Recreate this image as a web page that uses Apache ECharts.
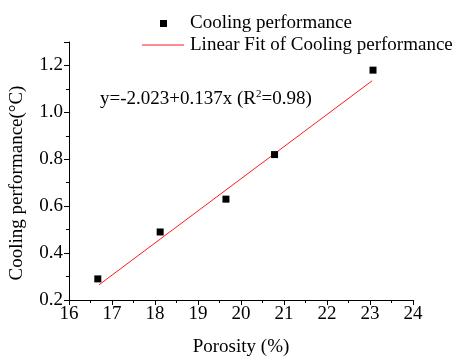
<!DOCTYPE html>
<html>
<head>
<meta charset="utf-8">
<script src="https://cdn.jsdelivr.net/npm/echarts@6/dist/echarts.min.js"></script>
<style>
  html, body { margin: 0; padding: 0; background: #fff; }
  #chart { width: 461px; height: 358px; }
</style>
</head>
<body>
<div id="chart"></div>
<script>
// measured points
const porosity = [16.67, 18.12, 19.65, 20.78, 23.07];
const cooling = [0.29, 0.49, 0.63, 0.82, 1.18];

// linear fit from the original plot
const fitIntercept = -2.023;
const fitSlope = 0.137;
const fitX = [16.7, 23.05];

const xTicks = [16, 17, 18, 19, 20, 21, 22, 23, 24];
const yTicks = [0.2, 0.4, 0.6, 0.8, 1.0, 1.2];

const FONT = 'Liberation Serif';
const FS = 19;

const chart = echarts.init(document.getElementById('chart'), null, { renderer: 'canvas' });

const fitLine = fitX.map((x) => [x, fitIntercept + fitSlope * x]);

const axisCommon = {
  axisLine: { show: true, lineStyle: { color: '#000', width: 1 } },
  axisTick: { show: true, inside: false, length: 5, lineStyle: { color: '#000' } },
  splitLine: { show: false },
  axisLabel: { color: '#000', fontFamily: FONT, fontSize: FS },
  nameTextStyle: { color: '#000', fontFamily: FONT, fontSize: FS },
};

// second axis on the same side, only for the short minor ticks
const minorAxis = {
  axisLine: { show: false },
  axisTick: { show: true, inside: false, length: 3, lineStyle: { color: '#000' } },
  axisLabel: { show: false },
  splitLine: { show: false },
};

chart.setOption({
  animation: false,
  backgroundColor: '#fff',
  textStyle: { fontFamily: FONT },
  grid: { left: 69, right: 48, top: 42, bottom: 58, containLabel: false, outerBoundsMode: 'none' },
  xAxis: [
    {
      ...axisCommon,
      type: 'value',
      position: 'bottom',
      min: xTicks[0],
      max: xTicks[xTicks.length - 1],
      interval: 1,
      name: 'Porosity (%)',
      nameLocation: 'middle',
      nameGap: 38,
      axisLabel: { ...axisCommon.axisLabel, margin: 5 },
    },
    {
      ...minorAxis,
      type: 'value',
      position: 'bottom',
      min: xTicks[0],
      max: xTicks[xTicks.length - 1],
      interval: 0.5,
    },
  ],
  yAxis: [
    {
      ...axisCommon,
      type: 'value',
      position: 'left',
      min: 0.2,
      max: 1.3,
      interval: 0.2,
      name: 'Cooling performance(°C)',
      nameLocation: 'middle',
      nameGap: 42,
      nameTextStyle: { ...axisCommon.nameTextStyle, padding: [0, 24, 0, 0] },
      axisLabel: {
        ...axisCommon.axisLabel,
        margin: 6,
        formatter: (v) => (yTicks.some((t) => Math.abs(t - v) < 1e-6) ? v.toFixed(1) : ''),
      },
    },
    {
      ...minorAxis,
      type: 'value',
      position: 'left',
      min: 0.2,
      max: 1.3,
      interval: 0.1,
    },
  ],
  series: [
    {
      name: 'Cooling performance',
      type: 'scatter',
      symbol: 'rect',
      symbolSize: 7,
      itemStyle: { color: '#000', opacity: 1 },
      data: porosity.map((x, i) => [x, cooling[i]]),
      z: 3,
    },
    {
      name: 'Linear Fit of Cooling performance',
      type: 'line',
      showSymbol: false,
      lineStyle: { color: '#ff1a1a', width: 1 },
      data: fitLine,
      z: 2,
    },
  ],
  graphic: [
    { type: 'rect', shape: { x: 160, y: 20, width: 7, height: 7 }, style: { fill: '#000' } },
    { type: 'text', x: 190, y: 23, style: { text: 'Cooling performance', font: FS + 'px "' + FONT + '"', fill: '#000', verticalAlign: 'middle' } },
    { type: 'line', shape: { x1: 142, y1: 45, x2: 184, y2: 45 }, style: { stroke: '#ff1a1a', lineWidth: 1 } },
    { type: 'text', x: 190, y: 45, style: { text: 'Linear Fit of Cooling performance', font: FS + 'px "' + FONT + '"', fill: '#000', verticalAlign: 'middle' } },
    {
      type: 'text', x: 100, y: 99,
      style: {
        text: 'y=-2.023+0.137x (R{sup|2}=0.98)',
        font: FS + 'px "' + FONT + '"', fill: '#000', verticalAlign: 'middle', lineHeight: 20,
        rich: { sup: { fontSize: 11, fontFamily: FONT, verticalAlign: 'top', lineHeight: 11 } },
      },
    },
  ],
});
</script>
</body>
</html>
